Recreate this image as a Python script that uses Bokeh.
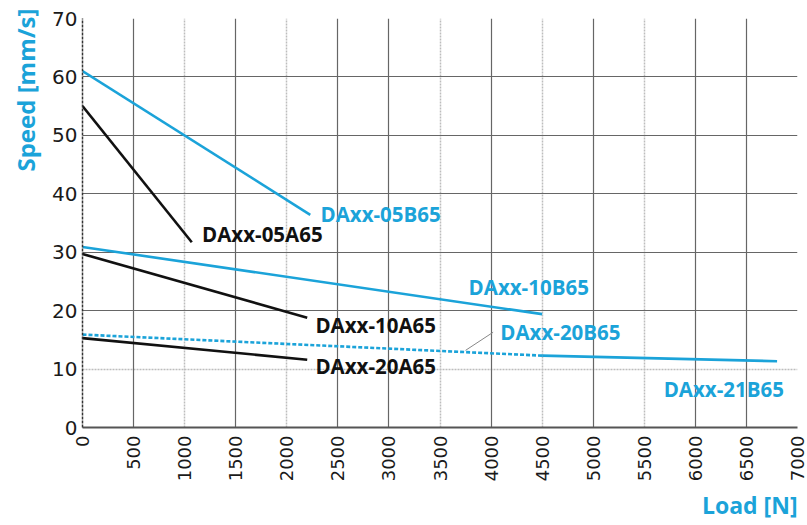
import math
from bokeh.plotting import figure
from bokeh.models import Range1d, FixedTicker, Grid, Title, ColumnDataSource
from bokeh.core.properties import value
from bokeh.embed import file_html
from bokeh.resources import INLINE

BLUE = "#1ba3d9"
BLACK = "#111111"

# Load [N] / Speed [mm/s] curves
load_05B65 = [0, 2230]
speed_05B65 = [61.0, 36.4]
load_05A65 = [0, 1070]
speed_05A65 = [55.0, 31.7]
load_10B65 = [0, 4500]
speed_10B65 = [30.9, 19.4]
load_10A65 = [0, 2200]
speed_10A65 = [29.7, 18.8]
load_20B65 = [0, 4500]
speed_20B65 = [15.9, 12.3]
load_21B65 = [4500, 6800]
speed_21B65 = [12.3, 11.35]
load_20A65 = [0, 2200]
speed_20A65 = [15.3, 11.6]

# curve labels
label_text = ["DAxx-05B65", "DAxx-05A65", "DAxx-10B65", "DAxx-10A65",
              "DAxx-20B65", "DAxx-20A65", "DAxx-21B65"]
label_x = [2330, 1170, 3780, 2280, 4090, 2280, 5690]
label_y = [36.5, 33.1, 24.0, 17.5, 16.4, 10.6, 6.6]
label_color = [BLUE, BLACK, BLUE, BLACK, BLUE, BLACK, BLUE]

# leader line for DAxx-20B65
leader_x = [4020, 3750]
leader_y = [16.3, 13.2]

x_ticks = list(range(0, 7001, 500))
y_ticks = list(range(0, 71, 10))
x_grid_solid = [500, 1500, 2500, 3000, 4000, 5000, 6000, 6500]
x_grid_dotted = [1000, 2000, 3500, 4500, 5500]
y_grid_solid = [20, 30, 40, 50, 60]
y_grid_dotted = [10]

p = figure(width=807, height=523, output_backend="svg", toolbar_location=None,
           x_range=Range1d(0, 7000), y_range=Range1d(0, 70),
           min_border_left=82, min_border_right=10, min_border_top=18,
           min_border_bottom=96)
p.outline_line_color = None
p.background_fill_color = "white"
p.border_fill_color = "white"
p.xgrid.visible = False
p.ygrid.visible = False

TICK_FONT = "DejaVu Sans"
p.xaxis.ticker = FixedTicker(ticks=x_ticks)
p.yaxis.ticker = FixedTicker(ticks=y_ticks)
p.xaxis.major_label_orientation = math.pi / 2
for ax in (p.xaxis, p.yaxis):
    ax.major_tick_out = 0
    ax.major_tick_in = 0
    ax.minor_tick_out = 0
    ax.minor_tick_in = 0
    ax.major_label_text_font = TICK_FONT
    ax.major_label_text_color = "#1a1a1a"
p.xaxis.major_label_text_font_size = "18px"
p.yaxis.major_label_text_font_size = "20px"
p.xaxis.major_label_standoff = 8
p.yaxis.major_label_standoff = 5
p.xaxis.axis_line_color = "#555555"
p.xaxis.axis_line_width = 2
p.yaxis.axis_line_color = "#333333"
p.yaxis.axis_line_width = 1.5
p.yaxis.axis_line_dash = "3 1"

def add_grid(dim, ticks, color, width, dash="solid"):
    g = Grid(dimension=dim, ticker=FixedTicker(ticks=ticks),
             grid_line_color=color, grid_line_width=width, grid_line_dash=dash)
    p.add_layout(g)

add_grid(0, x_grid_dotted, "#bdbdbd", 1.5, "2 1")
add_grid(1, y_grid_dotted, "#bdbdbd", 1.5, "2 1")
add_grid(0, x_grid_solid, "#666666", 1.2)
add_grid(1, y_grid_solid, "#666666", 1.2)
add_grid(1, [70], "#111111", 1.8)
add_grid(0, [7000], "#333333", 1.5, "3 1")

LW = 2.6
p.line(load_05B65, speed_05B65, color=BLUE, line_width=LW)
p.line(load_05A65, speed_05A65, color=BLACK, line_width=LW)
p.line(load_10B65, speed_10B65, color=BLUE, line_width=LW)
p.line(load_10A65, speed_10A65, color=BLACK, line_width=LW)
p.line(load_20B65, speed_20B65, color=BLUE, line_width=LW, line_dash="4 2")
p.line(load_21B65, speed_21B65, color=BLUE, line_width=LW)
p.line(load_20A65, speed_20A65, color=BLACK, line_width=LW)
p.line(leader_x, leader_y, color="#888888", line_width=1)

src = ColumnDataSource(dict(x=label_x, y=label_y, t=label_text, c=label_color))
p.text(x="x", y="y", text="t", text_color="c", source=src,
       text_font=value("Open Sans"), text_font_style="bold",
       text_font_size="20.5px", text_align="left", text_baseline="middle")

p.add_layout(Title(text="Speed [mm/s]", align="right", standoff=12, offset=-10,
                   vertical_align="top",
                   text_font="Open Sans", text_font_style="bold",
                   text_font_size="24px", text_color=BLUE), "left")
p.add_layout(Title(text="Load [N]", align="right", standoff=5,
                   text_font="Open Sans", text_font_style="bold",
                   text_font_size="23px", text_color=BLUE), "below")

open("out.html", "w").write(file_html(p, INLINE))
